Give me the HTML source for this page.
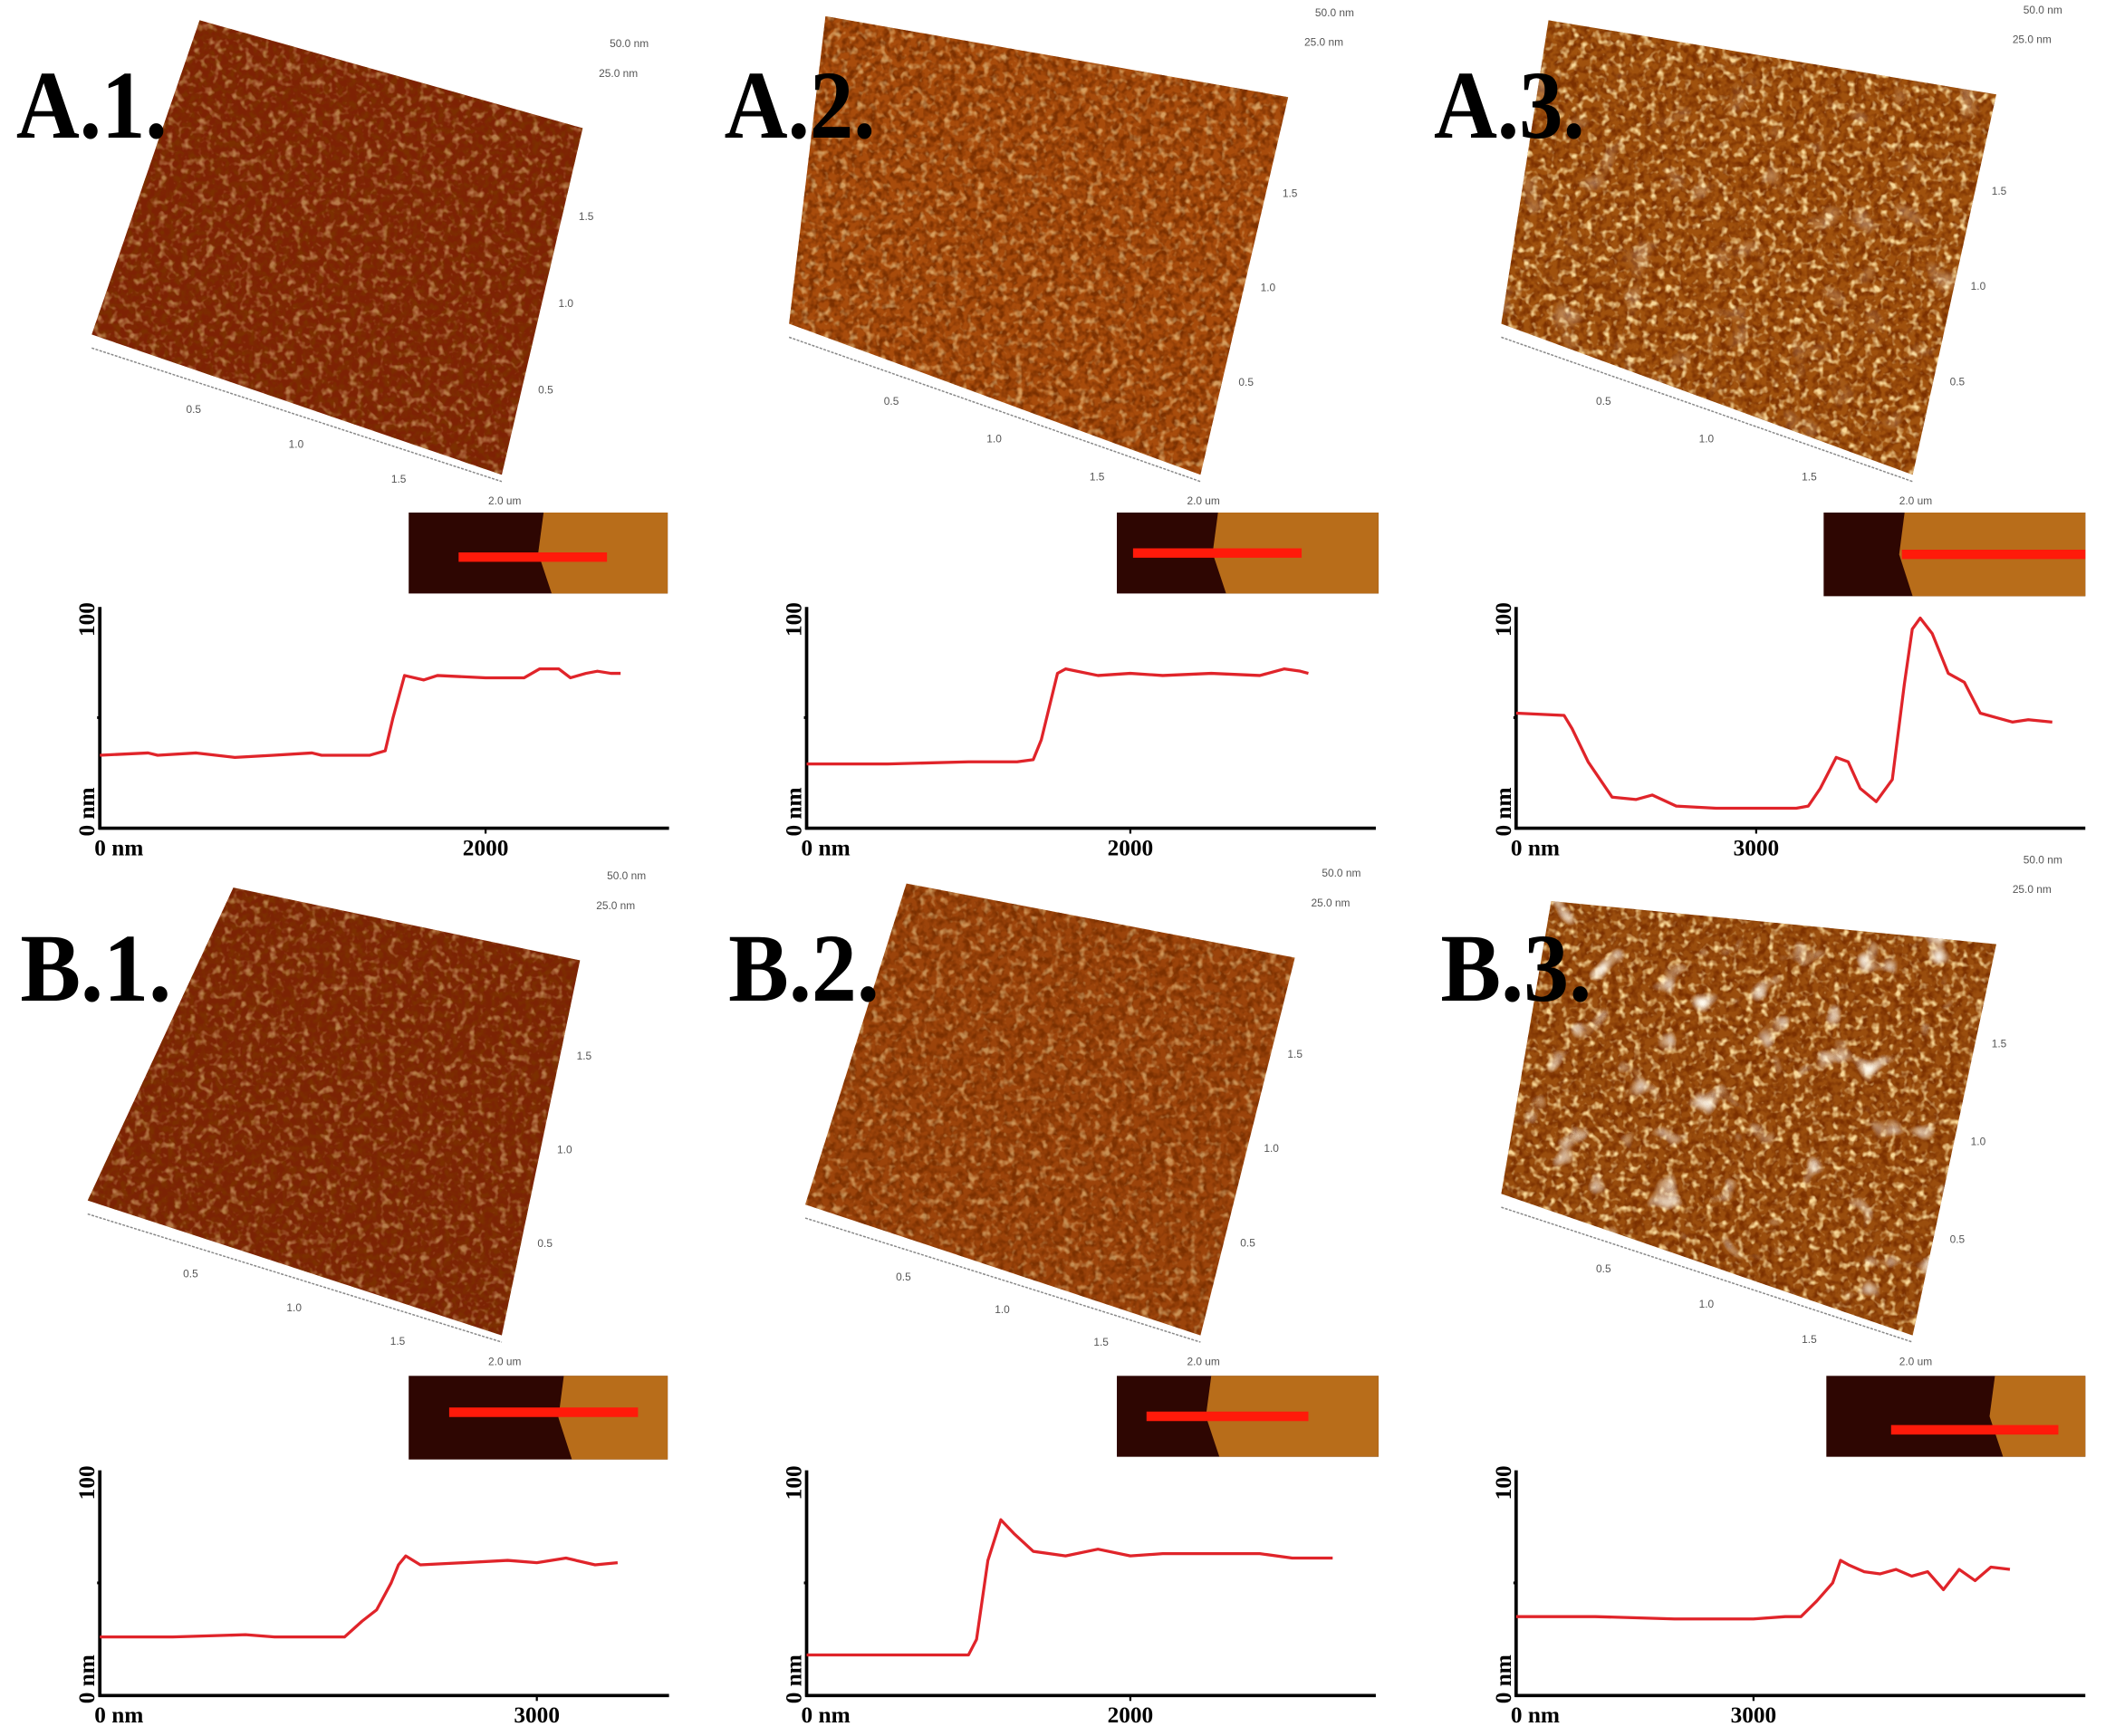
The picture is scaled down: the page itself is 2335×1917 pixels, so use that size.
<!DOCTYPE html>
<html><head><meta charset="utf-8">
<style>
html,body{margin:0;padding:0;background:#fff;width:2335px;height:1917px;overflow:hidden}
svg{display:block}
.lbl{font-family:"Liberation Serif",serif;font-weight:bold;font-size:72px;fill:#000}
.tk{font-family:"Liberation Serif",serif;font-weight:bold;font-size:17px;fill:#000}
.sm{font-family:"Liberation Sans",sans-serif;font-size:8px;fill:#555}
</style></head>
<body>
<svg id="fig" width="2335" height="1917" viewBox="0 0 1568 1287" preserveAspectRatio="none" xmlns="http://www.w3.org/2000/svg">
<defs>
<filter id="tex" x="0" y="0" width="100%" height="100%">
<feTurbulence type="fractalNoise" baseFrequency="0.17" numOctaves="2" seed="3" result="n"/>
<feColorMatrix in="n" type="matrix" values="0 0 0 0 1  0 0 0 0 0.75  0 0 0 0 0.35  3.4 0 0 0 -1.75"/>
</filter>
<filter id="tex2" x="0" y="0" width="100%" height="100%">
<feTurbulence type="fractalNoise" baseFrequency="0.2" numOctaves="2" seed="9" result="n"/>
<feColorMatrix in="n" type="matrix" values="0 0 0 0 0.2  0 0 0 0 0.03  0 0 0 0 0  3 0 0 0 -1.2"/>
</filter>
<filter id="tex3" x="0" y="0" width="100%" height="100%">
<feTurbulence type="fractalNoise" baseFrequency="0.04" numOctaves="2" seed="5" result="n"/>
<feColorMatrix in="n" type="matrix" values="0 0 0 0 1  0 0 0 0 0.95  0 0 0 0 0.85  5 0 0 0 -3.2"/>
</filter>
</defs>
<g id="surfaces"></g>
<g id="charts"></g>
</svg>
<script>
// ---- profile data (x in nm, height in nm) ----
const a1X=[0,250,300,500,700,900,1100,1150,1400,1480,1520,1580,1680,1750,2000,2200,2280,2380,2440,2520,2580,2650,2700];
const a1Y=[33,34,33,34,32,33,34,33,33,35,50,69,67,69,68,68,72,72,68,70,71,70,70];
const a2X=[0,500,1000,1300,1400,1450,1550,1600,1800,2000,2200,2500,2800,2950,3050,3100];
const a2Y=[29,29,30,30,31,40,70,72,69,70,69,70,69,72,71,70];
const a3X=[0,600,700,900,1200,1500,1700,2000,2500,3000,3500,3650,3800,4000,4150,4300,4500,4700,4850,4950,5050,5200,5400,5600,5800,6000,6200,6400,6700];
const a3Y=[52,51,45,30,14,13,15,10,9,9,9,10,18,32,30,18,12,22,65,90,95,88,70,66,52,50,48,49,48];
const b1X=[0,500,1000,1200,1500,1680,1800,1900,2000,2050,2100,2200,2500,2800,3000,3200,3400,3555];
const b1Y=[26,26,27,26,26,26,33,38,50,58,62,58,59,60,59,61,58,59];
const b2X=[0,500,1000,1050,1120,1200,1280,1400,1600,1800,2000,2200,2500,2800,3000,3250];
const b2Y=[18,18,18,25,60,78,72,64,62,65,62,63,63,63,61,61];
const b3X=[0,1000,2000,3000,3400,3600,3800,4000,4100,4200,4400,4600,4800,5000,5200,5400,5600,5800,6000,6240];
const b3Y=[35,35,34,34,35,35,42,50,60,58,55,54,56,53,55,47,56,51,57,56];
const xTicksA=["0 nm","2000"], xTicksA3=["0 nm","3000"], xTicksB=["0 nm","3000"];

const NS="http://www.w3.org/2000/svg";
function mk(tag,attrs,parent){const e=document.createElementNS(NS,tag);for(const k in attrs)e.setAttribute(k,attrs[k]);parent.appendChild(e);return e;}
const surfG=document.getElementById('surfaces');
const chartG=document.getElementById('charts');

// ---- 3D surfaces ----
const surfs=[
 {id:'a1',label:'A.1.',lx:12,ly:102,pts:[[148,15],[432,95],[372,352],[68,248]],col:'#7e2204',hi:0.45,big:0},
 {id:'a2',label:'A.2.',lx:537,ly:102,pts:[[612,12],[955,72],[890,352],[585,240]],col:'#a84c0c',hi:0.55,big:0},
 {id:'a3',label:'A.3.',lx:1063,ly:102,pts:[[1148,15],[1480,70],[1418,352],[1113,240]],col:'#a0520e',hi:0.95,big:0.3},
 {id:'b1',label:'B.1.',lx:15,ly:742,pts:[[173,658],[430,712],[372,990],[65,890]],col:'#7c2304',hi:0.45,big:0},
 {id:'b2',label:'B.2.',lx:540,ly:742,pts:[[672,655],[960,710],[890,990],[597,893]],col:'#9c440b',hi:0.5,big:0},
 {id:'b3',label:'B.3.',lx:1068,ly:742,pts:[[1150,668],[1480,700],[1418,990],[1113,885]],col:'#9a4e0e',hi:0.95,big:1}
];
surfs.forEach((s,i)=>{
 const g=mk('g',{},surfG);
 
 
 const ps=s.pts.map(p=>p.join(',')).join(' ');
 const cp=mk('clipPath',{id:'cp'+i},g);
 mk('polygon',{points:ps},cp);
 mk('polygon',{points:ps,fill:s.col},g);
 const xs=s.pts.map(p=>p[0]),ys=s.pts.map(p=>p[1]);
 const bx=Math.min(...xs),by=Math.min(...ys),bw=Math.max(...xs)-bx,bh=Math.max(...ys)-by;
 mk('rect',{x:bx,y:by,width:bw,height:bh,filter:'url(#tex2)','clip-path':'url(#cp'+i+')'},g);
 mk('rect',{x:bx,y:by,width:bw,height:bh,filter:'url(#tex)','clip-path':'url(#cp'+i+')',opacity:s.hi},g);
 if(s.big>0) mk('rect',{x:bx,y:by,width:bw,height:bh,filter:'url(#tex3)','clip-path':'url(#cp'+i+')',opacity:s.big},g);
 const p3=s.pts[3],p2=s.pts[2];
 mk('line',{x1:p3[0],y1:p3[1]+10,x2:p2[0],y2:p2[1]+5,stroke:'#888','stroke-width':1,'stroke-dasharray':'2,1'},g);
 const t=mk('text',{x:p2[0]-10,y:p2[1]+22,class:'sm'},g);t.textContent='2.0 um';
 const t2=mk('text',{x:s.pts[1][0]+20,y:s.pts[1][1]-60,class:'sm'},g);t2.textContent='50.0 nm';
 const t3=mk('text',{x:s.pts[1][0]+12,y:s.pts[1][1]-38,class:'sm'},g);t3.textContent='25.0 nm';
 ['0.5','1.0','1.5'].forEach((v,k)=>{
  const f=(k+1)/4;const tx=mk('text',{x:p3[0]+(p2[0]-p3[0])*f-6,y:p3[1]+(p2[1]-p3[1])*f+32,class:'sm'},g);tx.textContent=v;
  const ty=mk('text',{x:s.pts[1][0]+(p2[0]-s.pts[1][0])*(1-f)+12,y:s.pts[1][1]+(p2[1]-s.pts[1][1])*(1-f)+4,class:'sm'},g);ty.textContent=v;
 });
 const lt=mk('text',{x:s.lx,y:s.ly,class:'lbl',textLength:112,lengthAdjust:'spacingAndGlyphs'},g);
 
 
 lt.textContent=s.label;
});

// ---- inset images ----
const insets=[
 {id:'a1',x:303,y:380,w:192,h:60,edge:100,line:[37,147,33]},
 {id:'a2',x:828,y:380,w:194,h:60,edge:75,line:[12,137,30]},
 {id:'a3',x:1352,y:380,w:194,h:62,edge:60,line:[58,194,31]},
 {id:'b1',x:303,y:1020,w:192,h:62,edge:115,line:[30,170,27]},
 {id:'b2',x:828,y:1020,w:194,h:60,edge:70,line:[22,142,30]},
 {id:'b3',x:1354,y:1020,w:192,h:60,edge:125,line:[48,172,40]}
];
insets.forEach(n=>{
 const g=mk('g',{},surfG);
 
 
 mk('rect',{x:n.x,y:n.y,width:n.w,height:n.h,fill:'#2e0602'},g);
 mk('polygon',{points:`${n.x+n.edge},${n.y} ${n.x+n.w},${n.y} ${n.x+n.w},${n.y+n.h} ${n.x+n.edge+6},${n.y+n.h} ${n.x+n.edge-4},${n.y+n.h/2}`,fill:'#b86d1a'},g);
 mk('line',{x1:n.x+n.line[0],y1:n.y+n.line[2],x2:n.x+n.line[1],y2:n.y+n.line[2],stroke:'#ff1a0a','stroke-width':7},g);
});

// ---- profile charts ----
const charts=[
 {id:'a1',ax:74,top:450,bot:614,right:496,xs:a1X,ys:a1Y,xmax:2000,xpx:286,ticks:xTicksA},
 {id:'a2',ax:598,top:450,bot:614,right:1020,xs:a2X,ys:a2Y,xmax:2000,xpx:240,ticks:xTicksA},
 {id:'a3',ax:1124,top:450,bot:614,right:1546,xs:a3X,ys:a3Y,xmax:3000,xpx:178,ticks:xTicksA3},
 {id:'b1',ax:74,top:1090,bot:1257,right:496,xs:b1X,ys:b1Y,xmax:3000,xpx:324,ticks:xTicksB},
 {id:'b2',ax:598,top:1090,bot:1257,right:1020,xs:b2X,ys:b2Y,xmax:2000,xpx:240,ticks:xTicksA},
 {id:'b3',ax:1124,top:1090,bot:1257,right:1546,xs:b3X,ys:b3Y,xmax:3000,xpx:176,ticks:xTicksB}
];
charts.forEach(c=>{
 const g=mk('g',{},chartG);
 
 
 const sx=v=>c.ax+v/c.xmax*c.xpx;
 const sy=v=>c.bot-v/100*(c.bot-c.top);
 const ya=mk('line',{x1:c.ax,y1:c.top,x2:c.ax,y2:c.bot+1,stroke:'#000','stroke-width':2.5},g);
 
 
 const xa=mk('line',{x1:c.ax-1,y1:c.bot,x2:c.right,y2:c.bot,stroke:'#000','stroke-width':2.5},g);
 
 
 mk('line',{x1:c.ax-2,y1:(c.top+c.bot)/2,x2:c.ax,y2:(c.top+c.bot)/2,stroke:'#000','stroke-width':2},g);
 mk('line',{x1:sx(c.xmax),y1:c.bot,x2:sx(c.xmax),y2:c.bot+4,stroke:'#000','stroke-width':1.5},g);
 const t100=mk('text',{x:0,y:0,class:'tk',transform:`translate(${c.ax-4},${c.top+22}) rotate(-90)`},g);
 
 
 t100.textContent='100';
 const t0=mk('text',{x:0,y:0,class:'tk',transform:`translate(${c.ax-4},${c.bot+6}) rotate(-90)`},g);
 
 
 t0.textContent='0 nm';
 const x0=mk('text',{x:c.ax-4,y:c.bot+20,class:'tk'},g);
 
 
 x0.textContent=c.ticks[0];
 const x1=mk('text',{x:sx(c.xmax),y:c.bot+20,class:'tk','text-anchor':'middle'},g);
 
 
 x1.textContent=c.ticks[1];
 const d=c.xs.map((x,i)=>(i?'L':'M')+sx(x).toFixed(1)+','+sy(c.ys[i]).toFixed(1)).join(' ');
 const p=mk('path',{d:d,fill:'none',stroke:'#e0242a','stroke-width':2.2,'stroke-linejoin':'round'},g);
 
 
});
</script>
</body></html>
